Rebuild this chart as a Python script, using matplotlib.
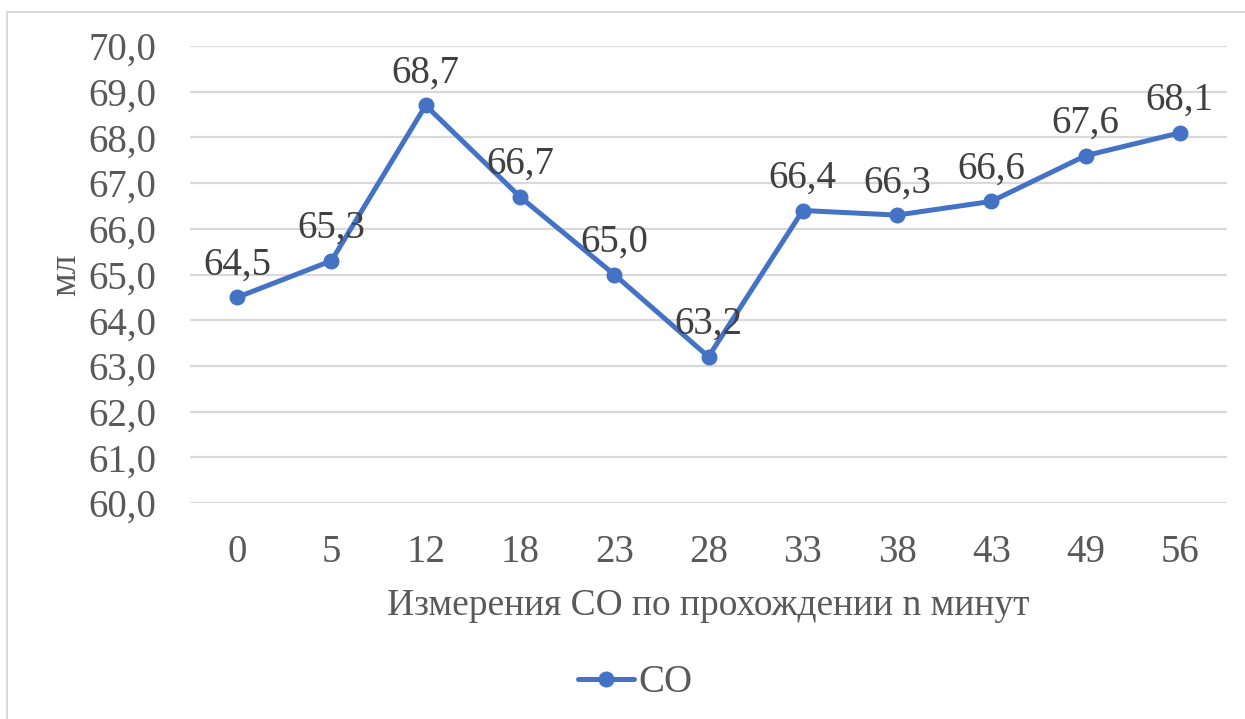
import matplotlib.pyplot as plt
from matplotlib.patches import Rectangle

# минуты после начала и объём CO
minutes = ['0', '5', '12', '18', '23', '28', '33', '38', '43', '49', '56']
co_values = [64.5, 65.3, 68.7, 66.7, 65.0, 63.2, 66.4, 66.3, 66.6, 67.6, 68.1]
y_ticks = [60, 61, 62, 63, 64, 65, 66, 67, 68, 69, 70]

blue = '#4472C4'
grey = '#595959'

plt.rcParams['font.family'] = ['Liberation Serif', 'DejaVu Serif']

fig = plt.figure(figsize=(12.45, 7.19), dpi=100)
ax = fig.add_axes([190 / 1245, 1 - 503 / 719, 1037 / 1245, 457 / 719])

x = list(range(len(minutes)))
line, = ax.plot(x, co_values, color=blue, lw=3.6, marker='o', ms=10.5,
                label='CO', solid_capstyle='round')

for xi, v in zip(x, co_values):
    ax.annotate(f'{v:.1f}'.replace('.', ','), (xi, v), xytext=(0, 10),
                textcoords='offset points', ha='center', va='bottom',
                fontsize=28, color='#404040')

ax.set_xlim(-0.5, len(minutes) - 0.5)
ax.set_ylim(60, 70)
ax.set_yticks(y_ticks)
ax.set_yticklabels([f'{t:.1f}'.replace('.', ',') for t in y_ticks])
ax.set_xticks(x)
ax.set_xticklabels(minutes)
ax.tick_params(length=0, labelsize=28, colors=grey)
ax.tick_params(axis='y', pad=24)
ax.tick_params(axis='x', pad=22)
ax.grid(axis='y', color='#D9D9D9', lw=1.6)
ax.set_axisbelow(True)
for s in ax.spines.values():
    s.set_visible(False)

ax.set_xlabel('Измерения СО по прохождении n минут', fontsize=27,
              color=grey, labelpad=13)
ax.set_ylabel('мл', fontsize=27, color=grey, labelpad=4)

fig.legend(handles=[line], loc='center', bbox_to_anchor=(0.51, 1 - 683 / 719),
           frameon=False, fontsize=28, handlelength=1.45, handletextpad=0.1,
           labelcolor=grey)

# рамка области диаграммы
fig.patches.append(Rectangle((7 / 1245, -0.1), 1.2, 1 - 12 / 719 + 0.1,
                             transform=fig.transFigure, fill=False,
                             edgecolor='#D9D9D9', lw=1.5))

fig.savefig('out.png', dpi=100)
